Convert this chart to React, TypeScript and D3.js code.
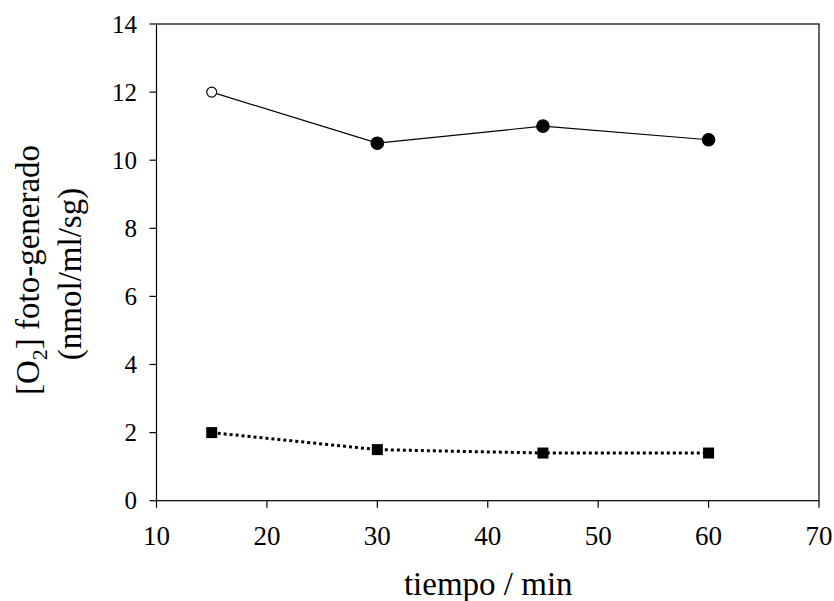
import React from "react";
import * as d3 from "d3";

const times = [15, 30, 45, 60];
const seriesA = [12, 10.5, 11, 10.6];
const seriesAOpen = [true, false, false, false];
const seriesB = [2, 1.5, 1.4, 1.4];
const xTicks = [10, 20, 30, 40, 50, 60, 70];
const yTicks = [0, 2, 4, 6, 8, 10, 12, 14];

export default function App() {
  const W = 834, H = 601;
  const L = 156.5, R = 819, T = 24, B = 500.7;
  const x = d3.scaleLinear().domain([10, 70]).range([L, R]);
  const y = d3.scaleLinear().domain([0, 14]).range([B, T]);
  const line = d3.line<number>().x((_, i) => x(times[i])).y((d) => y(d));
  const font = "'Liberation Serif', 'Times New Roman', serif";
  return (
    <svg width={W} height={H} style={{ position: "absolute", left: 0, top: 0, background: "#fff" }}>
      <rect x={0} y={0} width={W} height={H} fill="#fff" />
      <rect x={L} y={T} width={R - L} height={B - T} fill="none" stroke="#000" strokeWidth={1.2} />
      {yTicks.map((t) => (
        <g key={"y" + t}>
          <line x1={L - 7} x2={L} y1={y(t)} y2={y(t)} stroke="#000" strokeWidth={1.2} />
          <text x={L - 19.5} y={y(t)} dy="0.34em" textAnchor="end" fontFamily={font} fontSize={25}>{t}</text>
        </g>
      ))}
      {xTicks.map((t) => (
        <g key={"x" + t}>
          <line x1={x(t)} x2={x(t)} y1={B} y2={B + 7} stroke="#000" strokeWidth={1.2} />
          <text x={x(t)} y={545} textAnchor="middle" fontFamily={font} fontSize={27}>{t}</text>
        </g>
      ))}
      <path d={line(seriesA) || ""} fill="none" stroke="#000" strokeWidth={1.2} />
      {seriesA.map((v, i) => (
        <circle key={"a" + i} cx={x(times[i])} cy={y(v)} r={seriesAOpen[i] ? 5 : 6.2}
          fill={seriesAOpen[i] ? "#fff" : "#000"} stroke="#000" strokeWidth={1.2} />
      ))}
      <path d={line(seriesB) || ""} fill="none" stroke="#000" strokeWidth={3} strokeDasharray="3,3" />
      {seriesB.map((v, i) => (
        <rect key={"b" + i} x={x(times[i]) - 5.5} y={y(v) - 5.5} width={11} height={11} fill="#000" />
      ))}
      <text x={(L + R) / 2 + 0.5} y={595} textAnchor="middle" fontFamily={font} fontSize={33}>tiempo / min</text>
      <g transform={`translate(39, 270) rotate(-90)`}>
        <text x={0} y={0} textAnchor="middle" fontFamily={font} fontSize={33}>
          [O<tspan fontSize={22} dy={8}>2</tspan><tspan dy={-8}>] foto-generado</tspan>
        </text>
      </g>
      <g transform={`translate(81, 274) rotate(-90)`}>
        <text x={0} y={0} textAnchor="middle" fontFamily={font} fontSize={33}>(nmol/ml/sg)</text>
      </g>
    </svg>
  );
}
